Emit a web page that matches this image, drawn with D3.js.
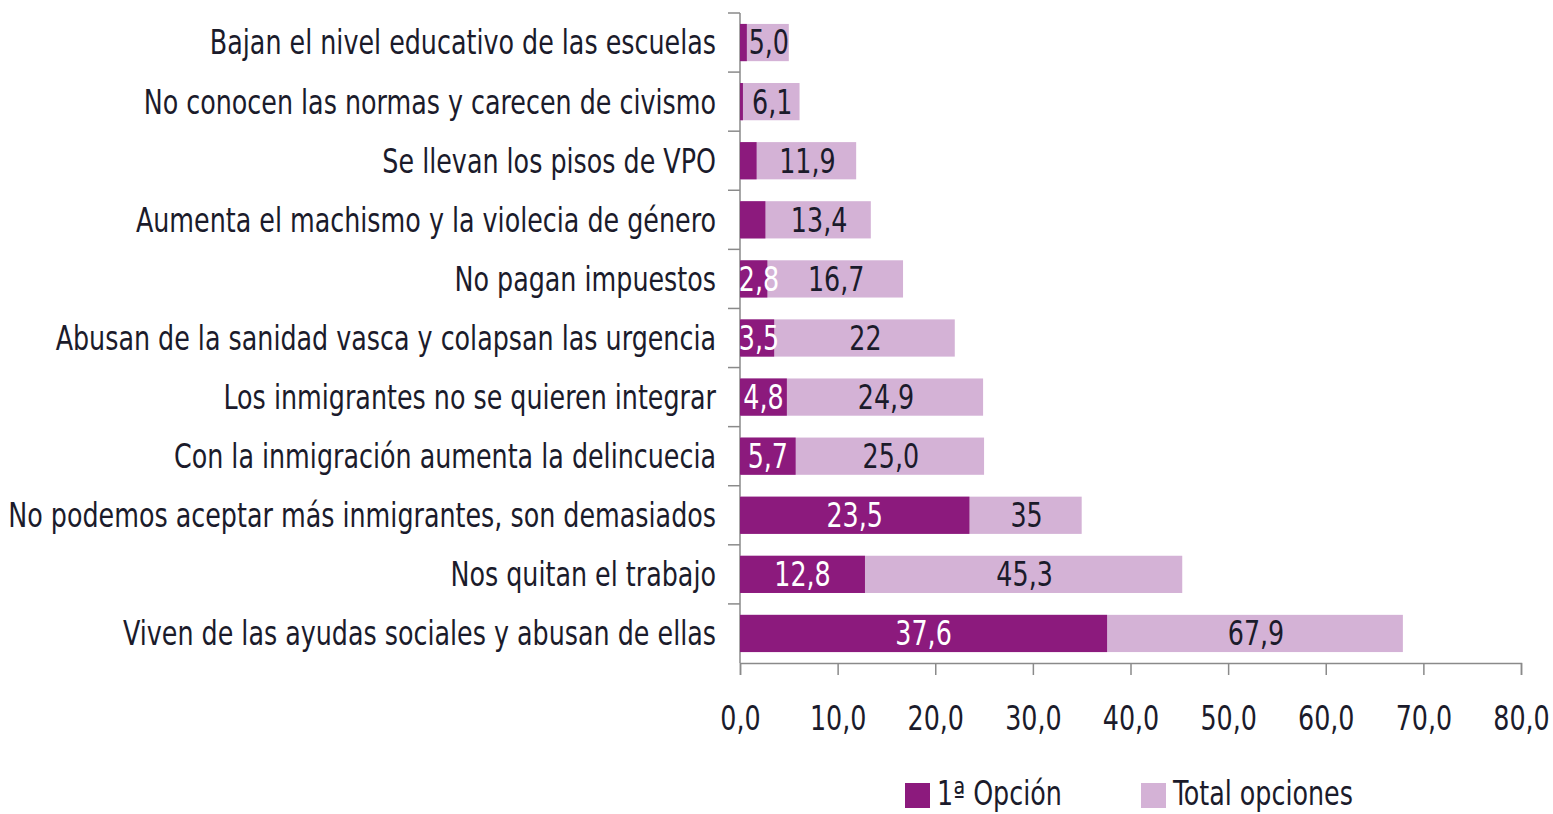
<!DOCTYPE html>
<html><head><meta charset="utf-8">
<script src="https://cdn.jsdelivr.net/npm/d3@7"></script>
<style>
body{margin:0;background:#fff;}
text{font-family:"DejaVu Sans Condensed","DejaVu Sans",sans-serif;}
</style></head>
<body><svg id="c" width="1553" height="814"></svg>
<script>
const categories = [
 "Bajan el nivel educativo de las escuelas",
 "No conocen las normas y carecen de civismo",
 "Se llevan los pisos de VPO",
 "Aumenta el machismo y la violecia de género",
 "No pagan impuestos",
 "Abusan de la sanidad vasca y colapsan las urgencia",
 "Los inmigrantes no se quieren integrar",
 "Con la inmigración aumenta la delincuecia",
 "No podemos aceptar más inmigrantes, son demasiados",
 "Nos quitan el trabajo",
 "Viven de las ayudas sociales y abusan de ellas"
];
const primeraOpcion = [0.7, 0.3, 1.7, 2.6, 2.8, 3.5, 4.8, 5.7, 23.5, 12.8, 37.6];
const primeraLabels = [null, null, null, null, "2,8", "3,5", "4,8", "5,7", "23,5", "12,8", "37,6"];
const totalOpciones = [5.0, 6.1, 11.9, 13.4, 16.7, 22, 24.9, 25.0, 35, 45.3, 67.9];
const totalLabels = ["5,0", "6,1", "11,9", "13,4", "16,7", "22", "24,9", "25,0", "35", "45,3", "67,9"];
const xTicks = [0, 10, 20, 30, 40, 50, 60, 70, 80];
const seriesNames = ["1ª Opción", "Total opciones"];

const DARK = "#8c1a7d", LIGHT = "#d4b2d6", TXT = "#1b1b2b", AXIS = "#8a8a8a";
const FS = 33, SX = 0.855;
const svg = d3.select("#c");
const x = d3.scaleLinear().domain([0, 80]).range([740, 1521]);
const y = d3.scaleBand().domain(categories).range([13, 663]).paddingInner(0.37).paddingOuter(0.185);
const tr = (px, py) => `translate(${px},${py}) scale(${SX},1)`;

// y axis line + ticks (drawn first so labels sit on top)
const yAxisG = svg.append("g");
const step = y.step();
yAxisG.selectAll("line.t").data(d3.range(categories.length)).join("line").attr("class","t")
  .attr("x1", 728).attr("x2", 740)
  .attr("y1", (d,i) => 13 + i*step).attr("y2", (d,i) => 13 + i*step)
  .attr("stroke", AXIS).attr("stroke-width", 1.5);
yAxisG.append("line").attr("x1", 740).attr("x2", 740).attr("y1", 13).attr("y2", 663).attr("stroke", AXIS).attr("stroke-width", 1.5);

// total bars
svg.append("g").selectAll("rect").data(categories).join("rect")
  .attr("x", x(0)).attr("y", d => y(d)).attr("height", y.bandwidth())
  .attr("width", (d,i) => x(totalOpciones[i]) - x(0)).attr("fill", LIGHT);
// first option bars
svg.append("g").selectAll("rect").data(categories).join("rect")
  .attr("x", x(0)).attr("y", d => y(d)).attr("height", y.bandwidth())
  .attr("width", (d,i) => x(primeraOpcion[i]) - x(0)).attr("fill", DARK);

// total labels (centered in light portion)
svg.append("g").selectAll("text").data(categories).join("text")
  .attr("transform", (d,i) => tr((x(primeraOpcion[i]) + x(totalOpciones[i]))/2 + 1, y(d) + y.bandwidth()/2))
  .attr("dy", "0.36em").attr("text-anchor", "middle")
  .attr("font-size", FS).attr("fill", TXT)
  .text((d,i) => totalLabels[i]);
// first option labels
svg.append("g").selectAll("text").data(categories).join("text")
  .attr("transform", (d,i) => tr(Math.max((x(0) + x(primeraOpcion[i]))/2, x(0) + 19), y(d) + y.bandwidth()/2))
  .attr("dy", "0.36em").attr("text-anchor", "middle")
  .attr("font-size", FS).attr("fill", "#fff")
  .text((d,i) => primeraLabels[i] || "");

// category labels
svg.append("g").selectAll("text").data(categories).join("text")
  .attr("transform", d => tr(716, y(d) + y.bandwidth()/2))
  .attr("dy", "0.36em").attr("text-anchor", "end")
  .attr("font-size", FS).attr("fill", TXT).text(d => d);

// x axis
const xAxis = d3.axisBottom(x).tickValues(xTicks).tickSize(12).tickPadding(32)
  .tickFormat(d => d3.format(".1f")(d).replace(".", ","));
const xg = svg.append("g").attr("transform", "translate(0,663)").call(xAxis);
xg.select(".domain").attr("stroke", AXIS).attr("stroke-width", 1.5);
xg.selectAll(".tick line").attr("stroke", AXIS).attr("stroke-width", 1.5);
xg.selectAll(".tick text").attr("font-size", FS).attr("fill", TXT)
  .attr("transform", `scale(${SX},1)`)
  .attr("font-family", '"DejaVu Sans Condensed","DejaVu Sans",sans-serif');

// legend
const legendX = [905, 1141];
const lg = svg.append("g");
lg.selectAll("rect").data(seriesNames).join("rect")
  .attr("x", (d,i) => legendX[i]).attr("y", 783).attr("width", 25).attr("height", 25)
  .attr("fill", (d,i) => i === 0 ? DARK : LIGHT);
lg.selectAll("text").data(seriesNames).join("text")
  .attr("transform", (d,i) => tr(legendX[i] + 32, 805))
  .attr("font-size", FS).attr("fill", TXT).text(d => d);
</script></body></html>
